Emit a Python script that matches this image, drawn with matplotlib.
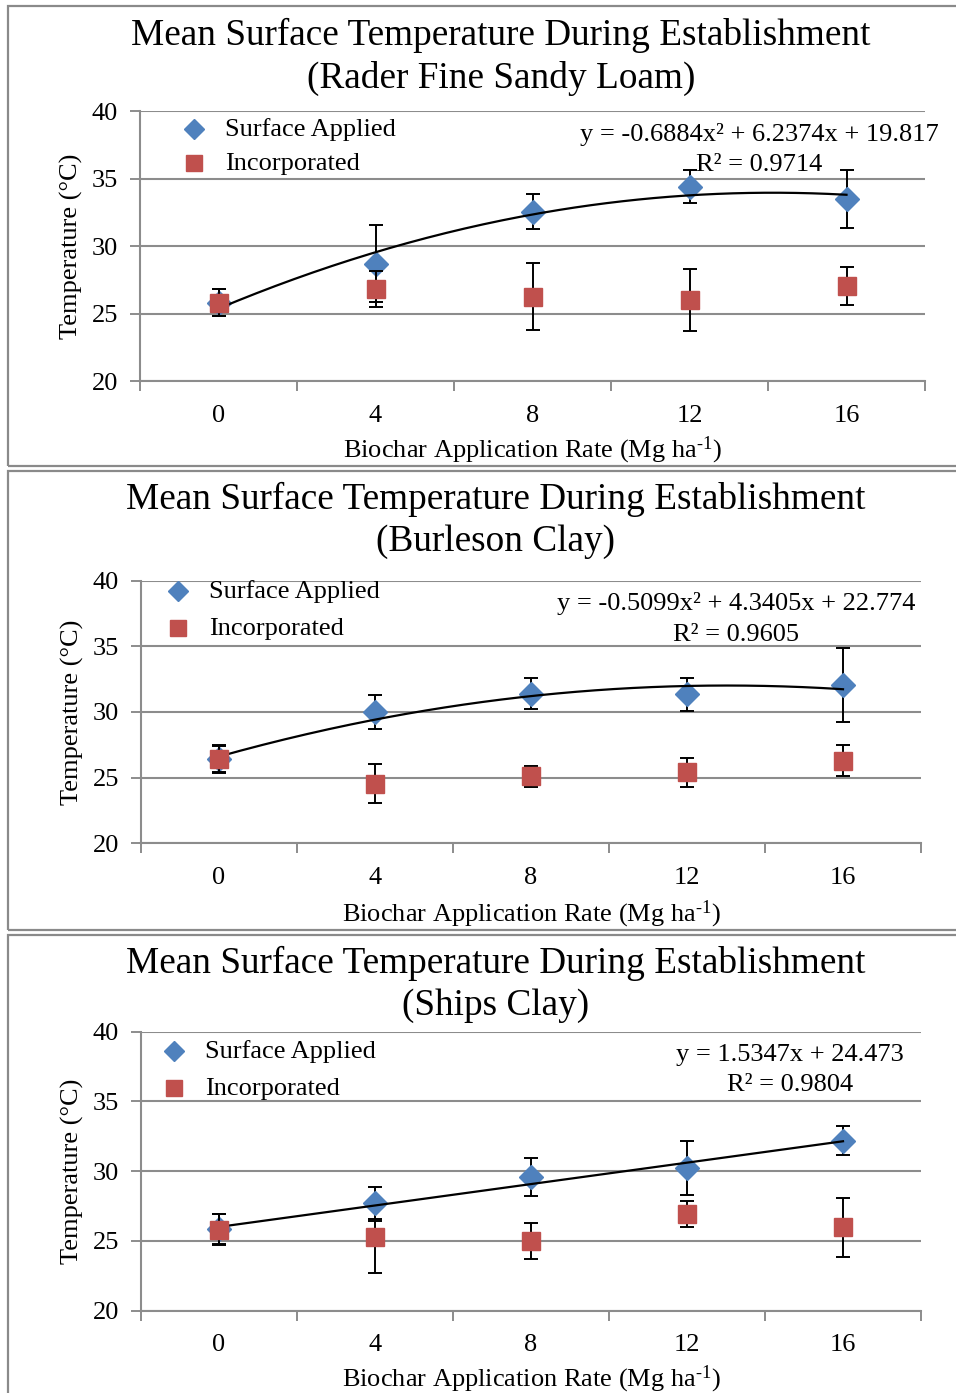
import matplotlib
matplotlib.use("Agg")
import matplotlib.pyplot as plt
import numpy as np
from matplotlib.lines import Line2D
from matplotlib.patches import Rectangle

plt.rcParams['font.family'] = ['Liberation Serif', 'DejaVu Serif']
plt.rcParams['mathtext.default'] = 'regular'
plt.rcParams['mathtext.fontset'] = 'custom'
plt.rcParams['mathtext.rm'] = 'Liberation Serif'

# ---------------- data ----------------
rates = ["0", "4", "8", "12", "16"]
titles = ["Mean Surface Temperature During Establishment\n(Rader Fine Sandy Loam)",
          "Mean Surface Temperature During Establishment\n(Burleson Clay)",
          "Mean Surface Temperature During Establishment\n(Ships Clay)"]

rader_surface = [25.8, 28.7, 32.55, 34.4, 33.45]
rader_surface_err = [1.0, 2.85, 1.3, 1.25, 2.15]
rader_incorp = [25.8, 26.8, 26.25, 26.0, 27.05]
rader_incorp_err = [1.0, 1.33, 2.5, 2.3, 1.4]

burleson_surface = [26.4, 30.0, 31.4, 31.35, 32.05]
burleson_surface_err = [1.05, 1.3, 1.15, 1.25, 2.85]
burleson_incorp = [26.4, 24.55, 25.1, 25.4, 26.3]
burleson_incorp_err = [1.0, 1.45, 0.8, 1.1, 1.2]

ships_surface = [25.85, 27.7, 29.58, 30.23, 32.2]
ships_surface_err = [1.1, 1.15, 1.38, 1.95, 1.05]
ships_incorp = [25.8, 25.31, 25.0, 26.94, 25.98]
ships_incorp_err_low = [1.1, 2.6, 1.27, 0.95, 2.1]
ships_incorp_err_high = [1.1, 1.15, 1.27, 0.95, 2.1]

rader_fit = [-0.6884, 6.2374, 19.817]
burleson_fit = [-0.5099, 4.3405, 22.774]
ships_fit = [1.5347, 24.473]

eq_texts = ["y = -0.6884x² + 6.2374x + 19.817\nR² = 0.9714",
            "y = -0.5099x² + 4.3405x + 22.774\nR² = 0.9605",
            "y = 1.5347x + 24.473\nR² = 0.9804"]

xlabel = r'Biochar Application Rate (Mg ha$^{\text{-1}}$)'
ylabel = 'Temperature (°C)'

# ---------------- layout (pixels) ----------------
W, H = 956, 1393
fig = plt.figure(figsize=(W / 100, H / 100), dpi=100)

def fx(x):
    return x / W

def fy(y):
    return 1 - y / H

panels = [
    dict(box=(8, 6, 1000, 466), ax=(140, 111, 925, 381), title_c=501, title_y=(35, 78),
         leg=(194, 130, 164, 225), eq=(759, 135, 165), xl=450),
    dict(box=(8, 471, 1000, 930), ax=(141, 580.6, 921, 843.3), title_c=496, title_y=(499, 542),
         leg=(178, 592, 629, 209), eq=(736, 604, 635), xl=914),
    dict(box=(8, 935, 1000, 1420), ax=(141, 1031.7, 921, 1310.7), title_c=496, title_y=(963, 1006),
         leg=(174, 1052, 1089, 205), eq=(790, 1055, 1085), xl=1379),
]

surf = [rader_surface, burleson_surface, ships_surface]
surf_err = [rader_surface_err, burleson_surface_err, ships_surface_err]
inc = [rader_incorp, burleson_incorp, ships_incorp]
inc_err = [rader_incorp_err, burleson_incorp_err,
           [ships_incorp_err_low, ships_incorp_err_high]]
fits = [rader_fit, burleson_fit, ships_fit]

blue = '#4F81BD'
red = '#C0504D'
gridc = '#8C8C8C'
FS = 19

for i, p in enumerate(panels):
    bx0, by0, bx1, by1 = p['box']
    fig.add_artist(Rectangle((fx(bx0), fy(by1)), fx(bx1 - bx0), (by1 - by0) / H,
                             transform=fig.transFigure, fill=False, edgecolor='#8A8A8A',
                             linewidth=1.6, zorder=0))
    l, t, r, b = p['ax']
    ax = fig.add_axes([fx(l), fy(b), fx(r - l), (b - t) / H])
    x = np.arange(1, len(rates) + 1)

    # trendline
    xs = np.linspace(1, len(rates), 200)
    ax.plot(xs, np.polyval(fits[i], xs), color='black', lw=1.6, zorder=4)

    ax.errorbar(x, surf[i], yerr=surf_err[i], fmt='D', color=blue, ms=12.5,
                ecolor='black', elinewidth=1.4, capsize=4.8, capthick=1.4, zorder=3)
    ax.errorbar(x, inc[i], yerr=inc_err[i], fmt='s', color=red, ms=13,
                ecolor='black', elinewidth=1.4, capsize=4.8, capthick=1.4, zorder=5)

    ax.set_xlim(0.5, len(rates) + 0.5)
    ax.set_ylim(20, 40)
    ax.set_yticks([20, 25, 30, 35, 40])
    ax.set_xticks(x)
    ax.set_xticklabels(rates)
    ax.set_xticks(np.arange(0.5, len(rates) + 1, 1), minor=True)
    ax.tick_params(axis='x', which='major', length=0, pad=17, labelsize=FS)
    ax.tick_params(axis='x', which='minor', length=7, width=1.4, color=gridc, direction='out')
    ax.tick_params(axis='y', which='major', length=7, width=1.4, color=gridc, direction='out',
                   labelsize=FS, pad=9)
    ax.grid(axis='y', color=gridc, lw=1.5)
    ax.set_axisbelow(True)
    for s in ['top', 'right']:
        ax.spines[s].set_visible(False)
    for s in ['left', 'bottom']:
        ax.spines[s].set_color(gridc)
        ax.spines[s].set_linewidth(1.5)

    ax.set_ylabel(ylabel, fontsize=FS, labelpad=6)
    fig.text(fx((l + r) / 2), fy(p['xl']), xlabel, fontsize=FS, ha='center', va='center')

    # titles
    l1, l2 = titles[i].split('\n')
    fig.text(fx(p['title_c']), fy(p['title_y'][0]), l1, fontsize=26.8, ha='center', va='center')
    fig.text(fx(p['title_c']), fy(p['title_y'][1]), l2, fontsize=26.8, ha='center', va='center')

    # legend (manual)
    mx, y1, y2, tx = p['leg']
    fig.add_artist(Line2D([fx(mx)], [fy(y1 - 1)], marker='D', color=blue, ms=10, ls='none',
                          transform=fig.transFigure))
    fig.add_artist(Line2D([fx(mx)], [fy(y2 - 1)], marker='s', color=red, ms=12, ls='none',
                          transform=fig.transFigure))
    fig.text(fx(tx), fy(y1), 'Surface Applied', fontsize=FS, ha='left', va='center')
    fig.text(fx(tx), fy(y2), 'Incorporated', fontsize=FS, ha='left', va='center')

    # equation
    ex, ey1, ey2 = p['eq']
    e1, e2 = eq_texts[i].split('\n')
    fig.text(fx(ex), fy(ey1), e1, fontsize=FS, ha='center', va='center')
    fig.text(fx(ex), fy(ey2), e2, fontsize=FS, ha='center', va='center')

fig.savefig('out.png', dpi=100)
